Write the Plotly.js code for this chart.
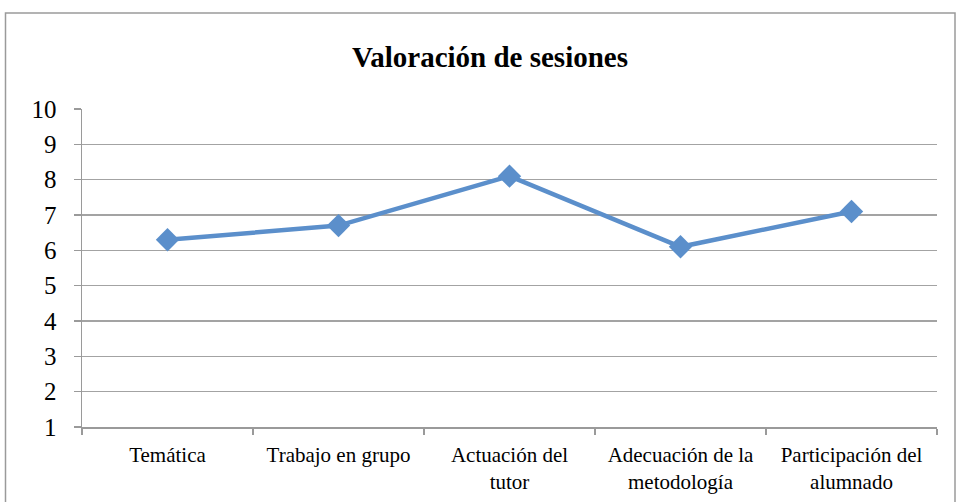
<!DOCTYPE html>
<html>
<head>
<meta charset="utf-8">
<script src="https://cdn.plot.ly/plotly-3.0.1.min.js"></script>
<style>
html,body{margin:0;padding:0;background:#fff;}
#chart{width:957px;height:502px;}
</style>
</head>
<body>
<div id="chart"></div>
<script>
const categories = ["Temática", "Trabajo en grupo", "Actuación del<br>tutor", "Adecuación de la<br>metodología", "Participación del<br>alumnado"];
const values = [6.3, 6.7, 8.1, 6.1, 7.1];
const yTicks = [1, 2, 3, 4, 5, 6, 7, 8, 9, 10];

const serif = "Liberation Serif, DejaVu Serif, serif";

const trace = {
  type: "scatter",
  mode: "lines+markers",
  x: categories,
  y: values,
  line: {color: "#5B8FCB", width: 4.5},
  marker: {symbol: "diamond", size: 18, color: "#5B8FCB"},
  hoverinfo: "x+y"
};

const layout = {
  width: 957,
  height: 502,
  margin: {l: 82, r: 20, t: 109, b: 75},
  paper_bgcolor: "#ffffff",
  plot_bgcolor: "#ffffff",
  showlegend: false,
  title: {
    text: "<b>Valoración de sesiones</b>",
    font: {family: serif, size: 29, color: "#000"},
    x: 0.512, xref: "container", xanchor: "center",
    y: 0.886, yref: "container", yanchor: "middle"
  },
  xaxis: {
    type: "category",
    range: [-0.5, 4.5],
    showgrid: false,
    showline: true,
    linecolor: "#9a9a9a",
    linewidth: 1.5,
    ticks: "outside",
    ticklen: 6,
    tickcolor: "#9a9a9a",
    tickwidth: 1.5,
    tickson: "boundaries",
    tickangle: 0,
    ticklabelstandoff: 8,
    tickfont: {family: serif, size: 21, color: "#000"},
    zeroline: false,
    fixedrange: true
  },
  yaxis: {
    range: [1, 10],
    tickvals: yTicks,
    ticktext: yTicks.map(String),
    showgrid: true,
    gridcolor: "#a3a3a3",
    gridwidth: 1.6,
    showline: true,
    linecolor: "#9a9a9a",
    linewidth: 1.5,
    ticks: "outside",
    ticklen: 7,
    tickcolor: "#9a9a9a",
    tickwidth: 1.5,
    ticklabelstandoff: 12,
    tickfont: {family: serif, size: 25, color: "#000"},
    zeroline: false,
    fixedrange: true
  },
  shapes: [{
    type: "rect",
    xref: "paper", yref: "paper",
    x0: (5.5 - 82) / 855, x1: (955 - 82) / 855,
    y0: (427 - 520) / 318, y1: (427 - 13) / 318,
    line: {color: "#9a9a9a", width: 1.5},
    fillcolor: "rgba(0,0,0,0)",
    layer: "below"
  }]
};

Plotly.newPlot("chart", [trace], layout, {displayModeBar: false, staticPlot: true});
</script>
</body>
</html>
